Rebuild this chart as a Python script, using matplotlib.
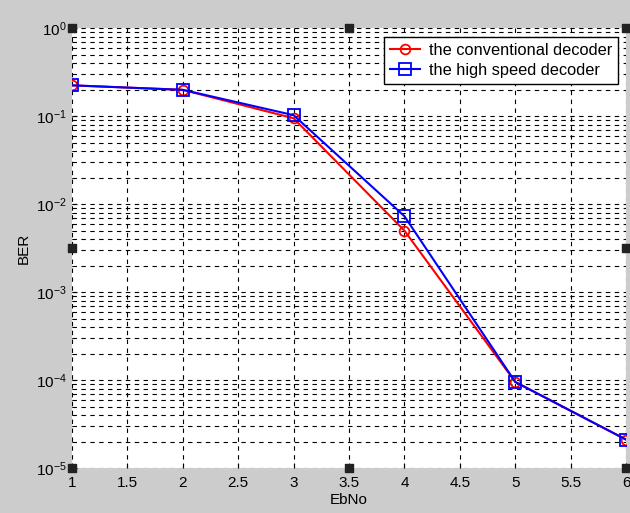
import matplotlib
matplotlib.use("Agg")
import matplotlib.pyplot as plt

plt.rcParams['font.family'] = ['Liberation Sans', 'DejaVu Sans']
plt.rcParams['mathtext.fontset'] = 'custom'
plt.rcParams['mathtext.rm'] = 'Liberation Sans'
plt.rcParams['mathtext.it'] = 'Liberation Sans'

ebno = [1, 2, 3, 4, 5, 6]
ber_conv = [0.225, 0.20, 0.095, 0.005, 9.5e-5, 2.1e-5]
ber_fast = [0.225, 0.20, 0.103, 0.0073, 9.5e-5, 2.1e-5]
xticks = [1, 1.5, 2, 2.5, 3, 3.5, 4, 4.5, 5, 5.5, 6]

fig = plt.figure(figsize=(6.3, 5.13), dpi=100, facecolor='#cccccc')
ax = fig.add_axes([0.114, 0.0877, 0.880, 0.857])
ax.set_facecolor('white')

ax.semilogy(ebno, ber_conv, color='red', marker='o', markersize=7, mfc='none',
            mew=1.3, lw=1.5, label='the conventional decoder')
ax.semilogy(ebno, ber_fast, color='blue', marker='s', markersize=8, mfc='none',
            mew=1.3, lw=1.5, label='the high speed decoder')

ax.set_xlim(1, 6)
ax.set_ylim(1e-5, 1)
ax.set_xticks(xticks)
ax.set_xticklabels([('%g' % t) for t in xticks])
for s in ax.spines.values():
    s.set_visible(False)
ax.grid(True, which='major', color='black', linestyle=(0, (4, 4)), linewidth=0.8)
ax.grid(True, which='minor', axis='y', color='black', linestyle=(0, (4, 4)), linewidth=0.8)
ax.tick_params(which='both', direction='in', colors='black', labelsize=11)
ax.tick_params(axis='x', pad=6)

ax.set_xlabel('EbNo', fontsize=11, labelpad=2)
ax.set_ylabel('BER', fontsize=11, labelpad=4)

leg = ax.legend(loc='upper right', bbox_to_anchor=(0.986, 0.98), fontsize=11.8,
                fancybox=False, framealpha=1, edgecolor='black',
                handlelength=1.8, handletextpad=0.6, borderpad=0.35,
                labelspacing=0.3, borderaxespad=0)
leg.get_frame().set_linewidth(1.0)

# selection handles
hx = [0, 0.5, 1, 0, 1, 0, 0.5, 1]
hy = [1, 1, 1, 0.5, 0.5, 0, 0, 0]
ax.scatter(hx, hy, marker='s', s=40, color='#222222', transform=ax.transAxes,
           clip_on=False, zorder=5)

fig.savefig('out.png', dpi=100, facecolor=fig.get_facecolor())
